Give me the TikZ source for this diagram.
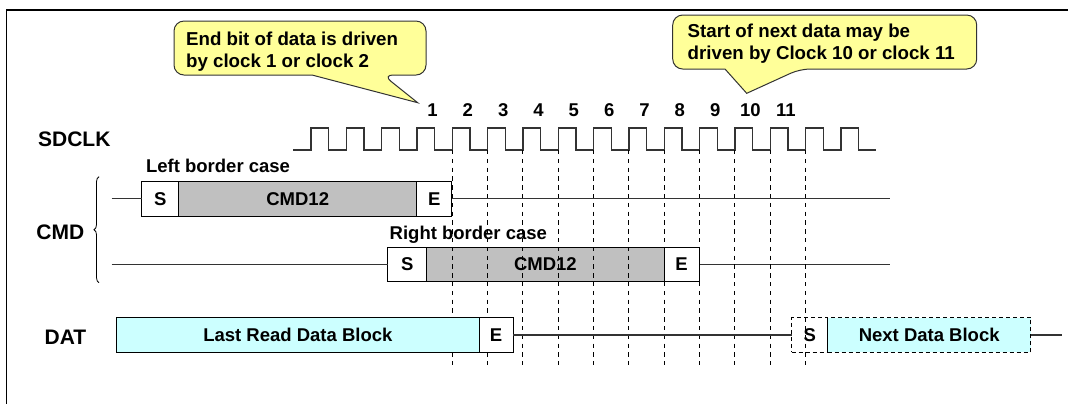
\documentclass[tikz,border=0pt]{standalone}
\usepackage{fontspec}
\setmainfont{Liberation Sans}
\usetikzlibrary{positioning, decorations.pathreplacing}
\definecolor{notecolor}{RGB}{255, 255, 153}
\definecolor{cmdcolor}{RGB}{192, 192, 192}
\definecolor{datcolor}{RGB}{204, 255, 255}
\definecolor{wirecolor}{RGB}{51, 51, 51}
\tikzset{
  field/.style={
    rectangle, draw=black, line width=0.5pt, inner sep=0pt, outer sep=0pt,
    minimum height=17.4pt, font=\fontsize{9.25}{11}\selectfont\bfseries
  },
  bitfield/.style={field, fill=white},
  cmdfield/.style={field, fill=cmdcolor},
  datfield/.style={field, fill=datcolor},
  nextfield/.style={field, dash pattern=on 2pt off 1.5pt},
  wire/.style={draw=wirecolor, line width=0.6pt},
  clockwave/.style={draw=wirecolor, line width=0.6pt},
  tickline/.style={line width=0.5pt, dash pattern=on 2.2pt off 2.2pt},
  signame/.style={font=\fontsize{10.5}{12}\selectfont\bfseries, anchor=base west, inner sep=0pt},
  caselabel/.style={font=\fontsize{9.25}{11}\selectfont\bfseries, anchor=base west, inner sep=0pt},
  clknum/.style={font=\fontsize{9.25}{11}\selectfont\bfseries, anchor=base, inner sep=0pt},
  note/.style={fill=notecolor, draw=black!80, line width=0.5pt},
  notetext/.style={font=\fontsize{9.35}{10.6}\selectfont\bfseries, align=left, anchor=north west, inner sep=0pt},
  borderline/.style={line width=0.75pt}
}

\begin{document}
\begin{tikzpicture}[x=0.5pt, y=-0.5pt]
  \useasboundingbox (0,0) rectangle (1068,404);

  %% ---- outer frame (top and left edge) ----
  \coordinate (frametr) at (1068,9.8);
  \coordinate (frametl) at (6.5,9.8);
  \coordinate (framebl) at (6.5,404);
  \draw[borderline] (frametr) -- (frametl) -- (framebl);

  %% ---- callouts ----
  \coordinate (endtip) at (417.7,102.7);
  \draw[note, rounded corners=5pt] (174,48) -- (174,21) -- (426,21) -- (426,75) -- (383,75)
    [sharp corners] -- (endtip) -- (312,75) [rounded corners=5pt] -- (174,75) -- cycle;
  \node[notetext] (endnote) at (185.7,32)
    {End bit of data is driven\\by clock 1 or clock 2};

  \coordinate (nexttip) at (746.7,93.3);
  \draw[note, rounded corners=5pt] (672.7,42) -- (672.7,15) -- (976.7,15) -- (976.7,69) -- (800,69)
    [sharp corners] -- (nexttip) -- (725,69) [rounded corners=5pt] -- (672.7,69) -- cycle;
  \node[notetext] (nextnote) at (687.3,24)
    {Start of next data may be\\driven by Clock 10 or clock 11};

  %% ---- signal names ----
  \node[signame] (sdclk) at (37.7,146.7) {SDCLK};
  \node[signame] (cmd) at (36,239) {CMD};
  \node[signame] (dat) at (44.3,344.3) {DAT};

  %% ---- clock ----
  \draw[clockwave] (293,150)
    foreach \k in {0,...,15} { -- ({311+35.33*\k},150) -- ++(0,-22) -- ++(17.67,0) -- ++(0,22) }
    -- (876,150);
  \foreach \n in {1,...,11}
    \node[clknum] (clk\n) at ({311+35.33*(\n+2)+15.5},116.7) {\n};

  %% ---- CMD brace ----
  \coordinate (bracebot) at (99,282.7);
  \coordinate (bracetop) at (99,176.7);
  \draw[line width=0.4pt, decorate, decoration={brace, amplitude=2.5pt}] (bracebot) -- (bracetop);

  %% ---- CMD, left border case ----
  \node[caselabel] (leftcase) at (145.7,172.7) {Left border case};
  \coordinate (cmdastart) at (111.7,198.7);
  \coordinate (cmdaend) at (890,198.7);
  \node[bitfield, minimum width=18.5pt, anchor=west] (cmdas) at (141.7,198.7) {S};
  \node[cmdfield, minimum width=119pt, right=0pt of cmdas] (cmdabody) {CMD12};
  \node[bitfield, minimum width=17.5pt, right=0pt of cmdabody] (cmdae) {E};
  \draw[wire] (cmdastart) -- (cmdas);
  \draw[wire] (cmdae) -- (cmdaend);

  %% ---- CMD, right border case ----
  \node[caselabel] (rightcase) at (389.3,239.3) {Right border case};
  \coordinate (cmdbstart) at (111.7,264.5);
  \coordinate (cmdbend) at (890,264.5);
  \node[bitfield, minimum width=19.5pt, anchor=west] (cmdbs) at (387.7,264.5) {S};
  \node[cmdfield, minimum width=118.7pt, right=0pt of cmdbs] (cmdbbody) {CMD12};
  \node[bitfield, minimum width=17.5pt, right=0pt of cmdbbody] (cmdbe) {E};
  \draw[wire] (cmdbstart) -- (cmdbs);
  \draw[wire] (cmdbe) -- (cmdbend);

  %% ---- clock edge markers ----
  \foreach \k in {4,...,14}
    \draw[tickline] ({311+35.33*\k},150) -- ({311+35.33*\k},365);

  %% ---- DAT ----
  \node[datfield, minimum width=181.2pt, anchor=west] (lastblock) at (116.7,335) {Last Read Data Block};
  \node[bitfield, minimum width=17pt, right=0pt of lastblock] (laste) {E};
  \node[nextfield, minimum width=18pt, anchor=west] (nexts) at (791.7,335) {S};
  \node[nextfield, fill=datcolor, minimum width=101.5pt, right=0pt of nexts] (nextblock) {Next Data Block};
  \coordinate (datend) at (1062,335);
  \draw[wire] (laste) -- (nexts);
  \draw[wire] (nextblock) -- (datend);

\end{tikzpicture}
\end{document}
